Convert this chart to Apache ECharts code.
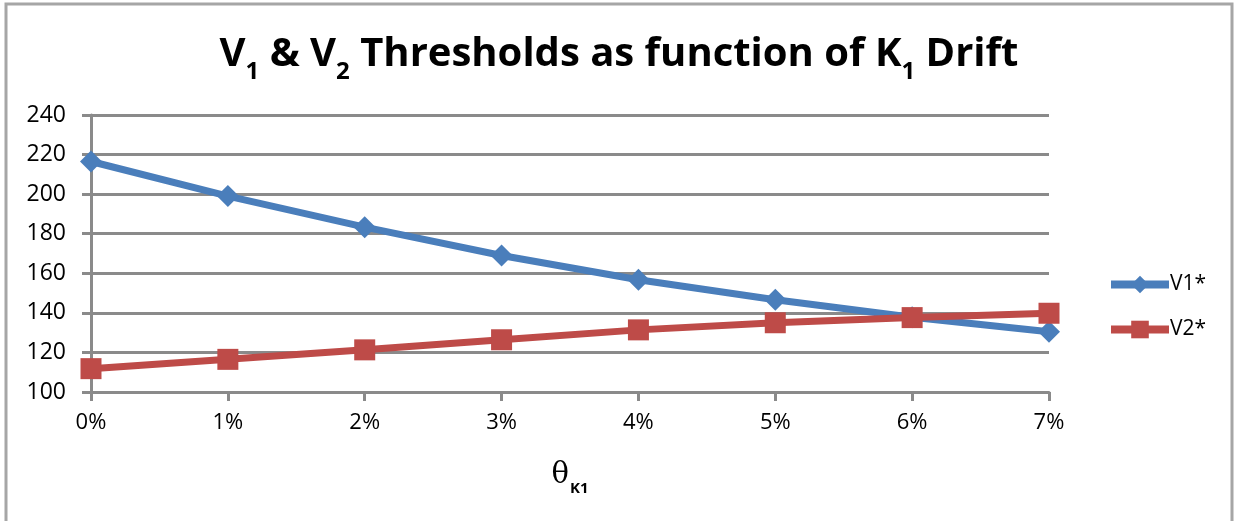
<!DOCTYPE html>
<html>
<head>
<meta charset="utf-8">
<script src="https://cdn.jsdelivr.net/npm/echarts@6/dist/echarts.min.js"></script>
<style>
  html, body { margin: 0; padding: 0; background: #fff; }
  #main { width: 1238px; height: 521px; }
</style>
</head>
<body>
<div id="main"></div>
<script>
// data
const drift = ['0%', '1%', '2%', '3%', '4%', '5%', '6%', '7%'];
const v1 = [216.5, 199, 183.3, 169, 156.7, 146.6, 137.8, 130.5];
const v2 = [111.8, 116.5, 121.3, 126.4, 131.4, 135, 137.6, 139.8];
const yTicks = [100, 120, 140, 160, 180, 200, 220, 240];

const font = "'Open Sans', 'DejaVu Sans', sans-serif";
const gridGray = '#8a8a8a';

const chart = echarts.init(document.getElementById('main'));

const option = {
    backgroundColor: '#fff',
    animation: false,
    textStyle: { fontFamily: font },
    title: {
        left: 'center',
        top: 20,
        text: '{t|V}{s|1}{t| & V}{s|2}{t| Thresholds as function of K}{s|1}{t| Drift}',
        textStyle: {
            rich: {
                t: { fontFamily: font, fontSize: 40, fontWeight: 'bold', color: '#000', verticalAlign: 'bottom', lineHeight: 50 },
                s: { fontFamily: font, fontSize: 24, fontWeight: 'bold', color: '#000', verticalAlign: 'bottom', lineHeight: 38, padding: [0, 0, -9, 0] }
            }
        }
    },
    graphic: [{
        type: 'rect',
        shape: { x: 6, y: 4, width: 1226, height: 520 },
        style: { fill: 'none', stroke: '#a6a6a6', lineWidth: 3 },
        silent: true
    }],
    legend: {
        orient: 'vertical',
        left: 1102,
        top: 269,
        itemWidth: 58,
        itemHeight: 22,
        itemGap: 24,
        lineStyle: { width: 8 },
        textStyle: { fontSize: 21, color: '#000', fontFamily: font, padding: [0, 0, 0, -4] },
        data: ['V1*', 'V2*']
    },
    grid: { left: 91, right: 189, top: 115, bottom: 129 },
    xAxis: {
        type: 'category',
        data: drift,
        boundaryGap: false,
        name: '{th|θ}{sub|K1}',
        nameLocation: 'middle',
        nameGap: 66,
        nameTextStyle: {
            rich: {
                th: { fontFamily: "'DejaVu Serif', serif", fontSize: 29, color: '#000', verticalAlign: 'bottom', lineHeight: 32 },
                sub: { fontFamily: font, fontSize: 15, fontWeight: 'bold', color: '#000', verticalAlign: 'bottom', lineHeight: 22, padding: [0, 0, -6, 1] }
            }
        },
        axisLine: { lineStyle: { color: gridGray, width: 3 } },
        axisTick: { show: true, alignWithLabel: true, length: 9, lineStyle: { color: gridGray, width: 3 } },
        axisLabel: { fontSize: 22, color: '#000', margin: 20 },
        splitLine: { show: false }
    },
    yAxis: {
        type: 'value',
        min: 100,
        max: 240,
        interval: 20,
        axisLine: { show: true, lineStyle: { color: gridGray, width: 3 } },
        axisTick: { show: true, length: 9, lineStyle: { color: gridGray, width: 3 } },
        axisLabel: {
            fontSize: 23,
            color: '#000',
            margin: 25,
            formatter: v => (yTicks.indexOf(v) >= 0 ? String(v) : '')
        },
        splitLine: { lineStyle: { color: gridGray, width: 3 } }
    },
    series: [
        {
            name: 'V1*',
            type: 'line',
            data: v1,
            symbol: 'diamond',
            symbolSize: 22,
            lineStyle: { color: '#4a7ebb', width: 7 },
            itemStyle: { color: '#4a7ebb' },
            z: 3
        },
        {
            name: 'V2*',
            type: 'line',
            data: v2,
            symbol: 'rect',
            symbolSize: 21,
            lineStyle: { color: '#be4b48', width: 7 },
            itemStyle: { color: '#be4b48' },
            z: 4
        }
    ]
};

chart.setOption(option);
</script>
</body>
</html>
